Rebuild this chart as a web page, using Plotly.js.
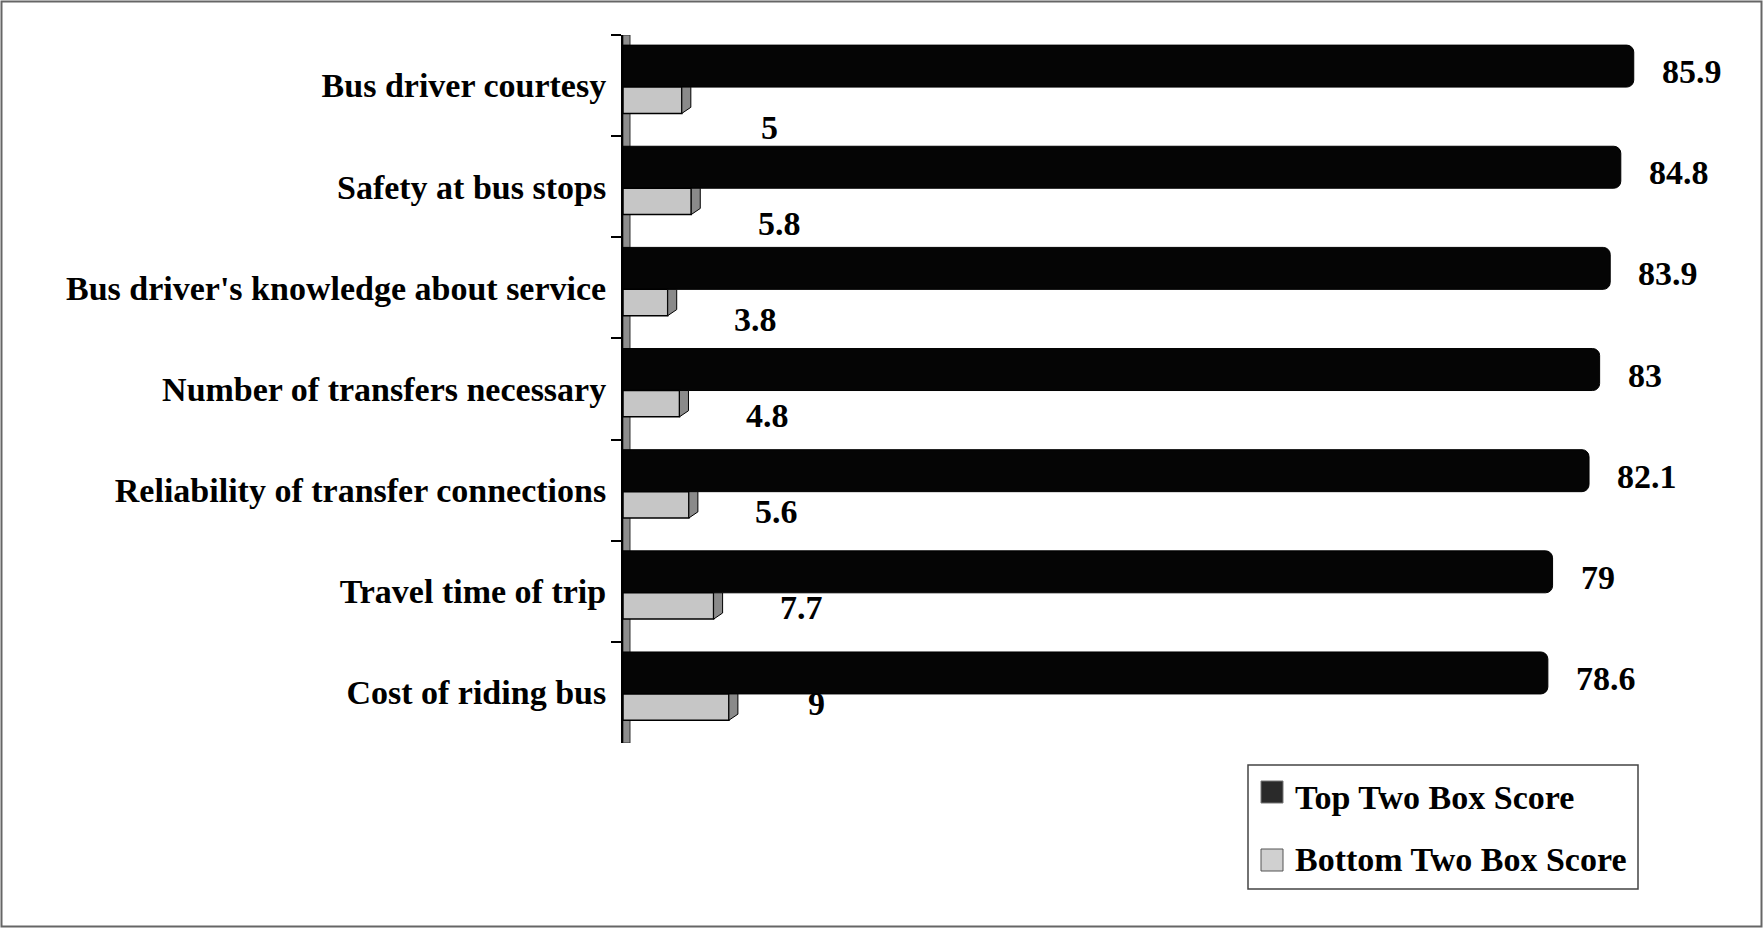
<!DOCTYPE html>
<html>
<head>
<meta charset="utf-8">
<script src="https://cdn.plot.ly/plotly-3.0.1.min.js"></script>
<style>
  html, body { margin: 0; padding: 0; background: #ffffff; }
  #chart { width: 1763px; height: 928px; }
</style>
</head>
<body>
<div id="chart"></div>
<script>
// Survey attributes, top to bottom
const categories = [
  "Bus driver courtesy",
  "Safety at bus stops",
  "Bus driver's knowledge about service",
  "Number of transfers necessary",
  "Reliability of transfer connections",
  "Travel time of trip",
  "Cost of riding bus"
];
// Percent of respondents in the top two / bottom two boxes
const topTwoBox = [85.9, 84.8, 83.9, 83, 82.1, 79, 78.6];
const bottomTwoBox = [5, 5.8, 3.8, 4.8, 5.6, 7.7, 9];
const seriesNames = ["Top Two Box Score", "Bottom Two Box Score"];

// ---- layout geometry ----
const W = 1763, H = 928;
const M = { l: 623, r: 81, t: 35, b: 185 };
const PW = W - M.l - M.r, PH = H - M.t - M.b;
const XMAX = 90;
const unitPerPx = XMAX / PW;
const px = x => (x - M.l) / PW;          // pixel column -> paper x
const py = y => (H - M.b - y) / PH;      // pixel row -> paper y

const FONT = { family: "Liberation Serif, Times New Roman, serif", size: 34, color: '#000000', weight: 'bold' };

// bar bands inside each category slot (category units, downward positive)
const TOP_OFF = -0.40, TOP_W = 0.415;
const BOT_OFF = 0.015, BOT_W = 0.26;

const traces = [
  {
    type: 'bar', orientation: 'h', name: seriesNames[0],
    y: categories, x: topTwoBox,
    offset: TOP_OFF, width: TOP_W,
    marker: { color: '#050505', line: { color: '#000000', width: 1 }, cornerradius: 7 },
    showlegend: false, hoverinfo: 'x+name'
  },
  {
    type: 'bar', orientation: 'h', name: seriesNames[1],
    y: categories, x: bottomTwoBox,
    offset: BOT_OFF, width: BOT_W,
    marker: { color: '#c6c6c6', line: { color: '#000000', width: 1.5 } },
    showlegend: false, hoverinfo: 'x+name'
  }
];

const shapes = [];
// side wall running along the category axis
shapes.push({
  type: 'rect', xref: 'x', yref: 'y', layer: 'below',
  x0: 0, x1: 7 * unitPerPx, y0: -0.5, y1: 6.5,
  fillcolor: '#8e8e8e', line: { color: '#333333', width: 1 }
});
// depth face at the end of each light bar
const depthX = 9 * unitPerPx;
bottomTwoBox.forEach((v, i) => {
  const yTop = i + BOT_OFF, yBot = i + BOT_OFF + BOT_W;
  shapes.push({
    type: 'path', xref: 'x', yref: 'y',
    path: `M ${v} ${yTop} L ${v + depthX} ${yTop} L ${v + depthX} ${yBot - 0.06} L ${v} ${yBot} Z`,
    fillcolor: '#8a8a8a', line: { color: '#000000', width: 1 }
  });
});

// legend box
shapes.push({
  type: 'rect', xref: 'paper', yref: 'paper',
  x0: px(1248), x1: px(1638), y0: py(889), y1: py(765),
  fillcolor: '#ffffff', line: { color: '#444444', width: 1.5 }
});
shapes.push({
  type: 'rect', xref: 'paper', yref: 'paper',
  x0: px(1261), x1: px(1283), y0: py(803), y1: py(781),
  fillcolor: '#2a2a2a', line: { color: '#777777', width: 1 }
});
shapes.push({
  type: 'rect', xref: 'paper', yref: 'paper',
  x0: px(1261), x1: px(1283), y0: py(871), y1: py(849),
  fillcolor: '#d0d0d0', line: { color: '#555555', width: 1 }
});
// outer frame
shapes.push({
  type: 'rect', xref: 'paper', yref: 'paper',
  x0: px(1.5), x1: px(1761.5), y0: py(926.5), y1: py(1.5),
  fillcolor: 'rgba(0,0,0,0)', line: { color: '#666666', width: 2 }
});

const annotations = [];
topTwoBox.forEach((v, i) => {
  annotations.push({
    x: v, y: categories[i], xref: 'x', yref: 'y',
    text: String(v), showarrow: false,
    xanchor: 'left', yanchor: 'middle', xshift: 26, yshift: 14,
    font: FONT
  });
});
bottomTwoBox.forEach((v, i) => {
  annotations.push({
    x: v, y: categories[i], xref: 'x', yref: 'y',
    text: String(v), showarrow: false,
    xanchor: 'center', yanchor: 'middle', xshift: 88, yshift: -(42.4 - 5.2 * i),
    font: FONT
  });
});
seriesNames.forEach((name, k) => {
  annotations.push({
    x: px(1293), y: py(k === 0 ? 797 : 859), xref: 'paper', yref: 'paper',
    text: name, showarrow: false, xanchor: 'left', yanchor: 'middle',
    font: FONT
  });
});

const layout = {
  width: W, height: H,
  margin: M,
  paper_bgcolor: '#ffffff', plot_bgcolor: '#ffffff',
  barmode: 'overlay',
  showlegend: false,
  xaxis: { range: [0, XMAX], visible: false, fixedrange: true },
  yaxis: {
    type: 'category', categoryorder: 'array', categoryarray: categories,
    range: [6.5, -0.5],
    tickson: 'boundaries', ticks: 'outside', ticklen: 10, tickwidth: 1.5, tickcolor: '#000000',
    ticklabelstandoff: 8,
    showline: true, linecolor: '#000000', linewidth: 2,
    showgrid: false, zeroline: false, fixedrange: true,
    tickfont: FONT
  },
  shapes: shapes,
  annotations: annotations
};

Plotly.newPlot('chart', traces, layout, { displayModeBar: false, responsive: false });
</script>
</body>
</html>
